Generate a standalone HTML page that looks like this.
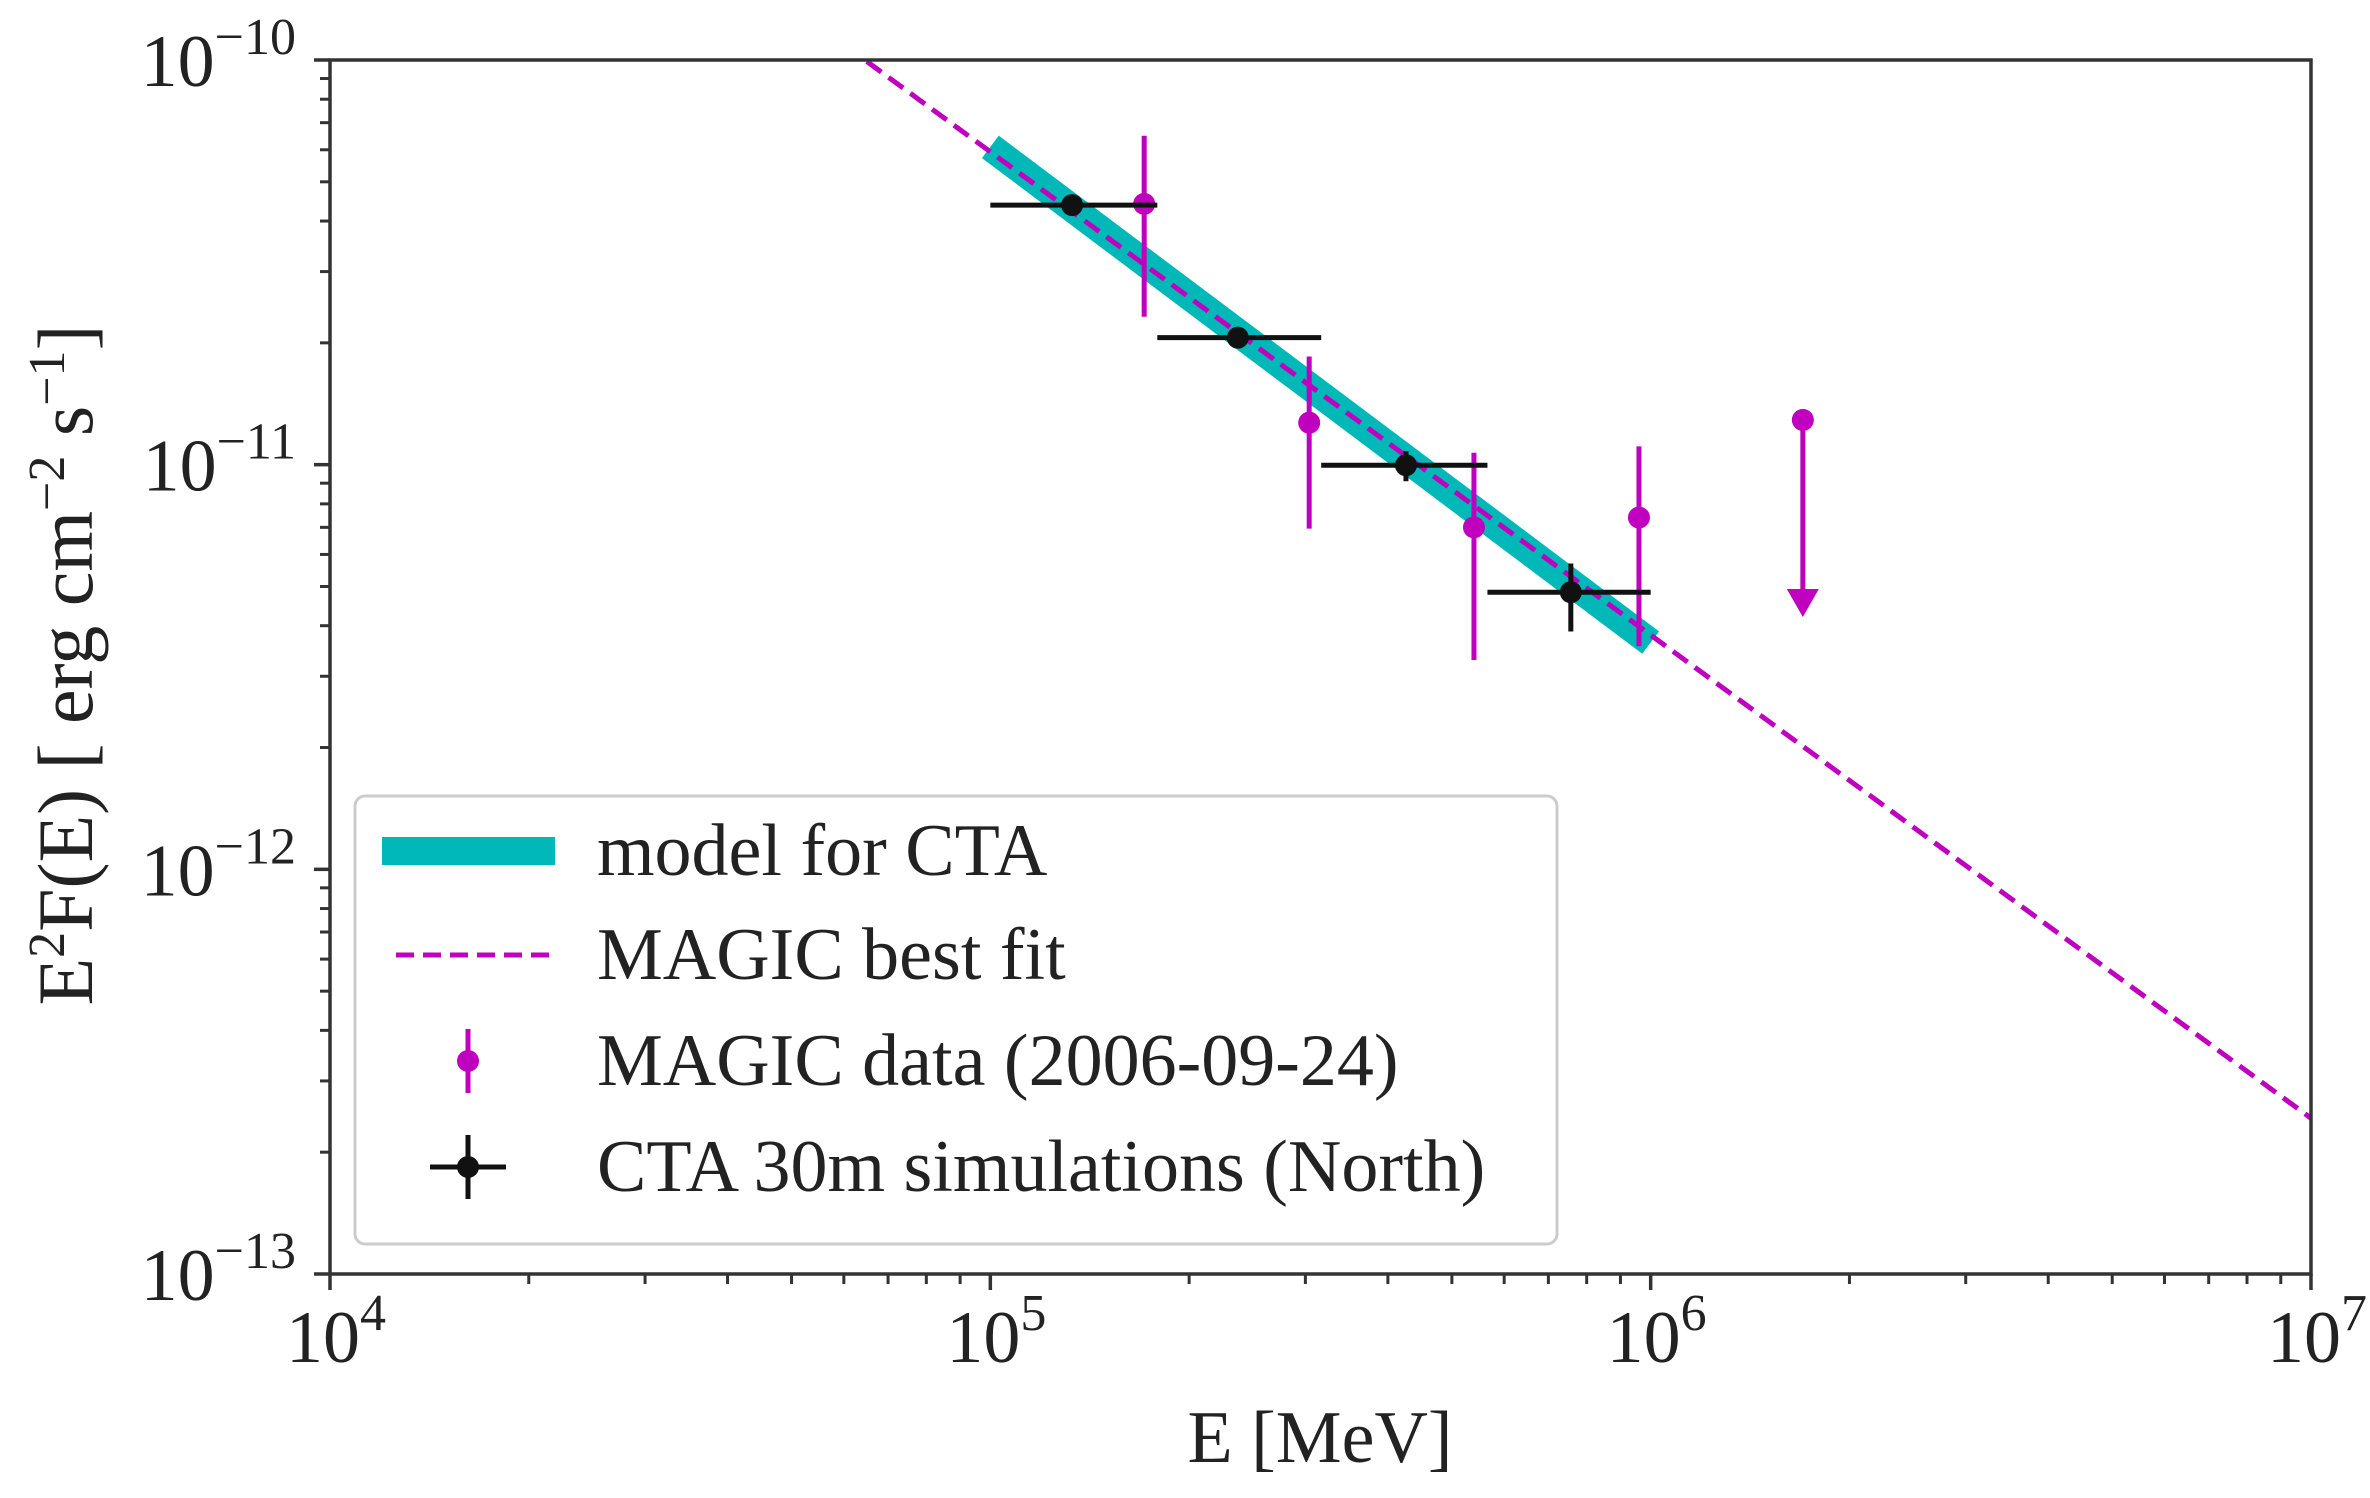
<!DOCTYPE html>
<html><head><meta charset="utf-8"><style>
html,body{margin:0;padding:0;background:#fff;}
svg{display:block;font-family:"Liberation Serif","DejaVu Serif",serif;}
</style></head><body>
<svg id="chart" width="2370" height="1498" viewBox="0 0 2370 1498" xmlns="http://www.w3.org/2000/svg">
<rect x="0" y="0" width="2370" height="1498" fill="#fff"/>
<g id="plot"></g>
<text x="1320" y="1462" font-size="74" text-anchor="middle" fill="#222">E [MeV]</text>
<text transform="translate(92,665) rotate(-90)" font-size="78" text-anchor="middle" fill="#222">E<tspan font-size="52" dy="-28">2</tspan><tspan dy="28">F(E) [ erg cm</tspan><tspan font-size="52" dy="-28">−2</tspan><tspan dy="28"> s</tspan><tspan font-size="52" dy="-28">−1</tspan><tspan dy="28">]</tspan></text>
</svg>
<script>
// ---- data ----
const xDecades = [4, 5, 6, 7];
const yDecades = [-10, -11, -12, -13];
const fitNorm = 5.93e-11;      // MAGIC best fit at 1e5 MeV
const fitIndex = -1.194;       // slope in E^2F
const fitRange = [6.5e4, 1e7];
const modelNorm = 6.1e-11;
const modelIndex = -1.225;
const modelRange = [1e5, 1e6];
const magicE = [1.71e5, 3.04e5, 5.4e5, 9.6e5];
const magicF = [4.41e-11, 1.27e-11, 7.0e-12, 7.4e-12];
const magicHi = [6.5e-11, 1.85e-11, 1.07e-11, 1.11e-11];
const magicLo = [2.32e-11, 6.95e-12, 3.29e-12, 3.56e-12];
const ulE = [1.70e6];
const ulF = [1.29e-11];
const ulTo = [4.3e-12];
const ctaE = [1.33e5, 2.37e5, 4.26e5, 7.57e5];
const ctaF = [4.38e-11, 2.06e-11, 9.97e-12, 4.84e-12];
const ctaElo = [1.0e5, 1.79e5, 3.17e5, 5.66e5];
const ctaEhi = [1.79e5, 3.17e5, 5.66e5, 1.0e6];
const ctaFlo = [4.2e-11, 1.98e-11, 9.1e-12, 3.87e-12];
const ctaFhi = [4.55e-11, 2.15e-11, 1.08e-11, 5.7e-12];
// ---- layout ----
const L=330,R=2311,T=60,B=1274;
const X=v=>L+(Math.log10(v)-4)/3*(R-L);
const Y=v=>T+(-10-Math.log10(v))/3*(B-T);
const NS="http://www.w3.org/2000/svg";
const g=document.getElementById('plot');
function mk(tag,attrs,parent){const e=document.createElementNS(NS,tag);for(const k in attrs)e.setAttribute(k,attrs[k]);(parent||g).appendChild(e);return e;}
const C='#333';
const MG='#bf00bf', CY='#00b8b8';
// model band
{const e=mk('line',{x1:X(modelRange[0]),y1:Y(modelNorm*Math.pow(modelRange[0]/1e5,modelIndex)),x2:X(modelRange[1]),y2:Y(modelNorm*Math.pow(modelRange[1]/1e5,modelIndex)),stroke:CY,'stroke-width':28});

}
// fit line
{const e=mk('line',{x1:X(fitRange[0]),y1:Y(fitNorm*Math.pow(fitRange[0]/1e5,fitIndex)),x2:X(fitRange[1]),y2:Y(fitNorm*Math.pow(fitRange[1]/1e5,fitIndex)),stroke:MG,'stroke-width':5,'stroke-dasharray':'18 9'});

}
// magic points
magicE.forEach((e,i)=>{
 const gg=mk('g',{});
 
 
 mk('line',{x1:X(e),x2:X(e),y1:Y(magicHi[i]),y2:Y(magicLo[i]),stroke:MG,'stroke-width':5},gg);
 mk('circle',{cx:X(e),cy:Y(magicF[i]),r:11,fill:MG},gg);
});
ulE.forEach((e,i)=>{
 const gg=mk('g',{});
 
 
 const x=X(e),y1=Y(ulF[i]),y2=Y(ulTo[i]);
 mk('line',{x1:x,x2:x,y1:y1,y2:y2-18,stroke:MG,'stroke-width':5},gg);
 mk('polygon',{points:`${x-16},${y2-24} ${x+16},${y2-24} ${x},${y2+4}`,fill:MG},gg);
 mk('circle',{cx:x,cy:y1,r:11,fill:MG},gg);
});
// cta points
ctaE.forEach((e,i)=>{
 const gg=mk('g',{});
 
 
 mk('line',{x1:X(ctaElo[i]),x2:X(ctaEhi[i]),y1:Y(ctaF[i]),y2:Y(ctaF[i]),stroke:'#111','stroke-width':5},gg);
 mk('line',{x1:X(e),x2:X(e),y1:Y(ctaFhi[i]),y2:Y(ctaFlo[i]),stroke:'#111','stroke-width':5},gg);
 mk('circle',{cx:X(e),cy:Y(ctaF[i]),r:11,fill:'#111'},gg);
});
// axes frame
{const e=mk('rect',{x:L,y:T,width:R-L,height:B-T,fill:'none',stroke:C,'stroke-width':3.5});

}
// x ticks
xDecades.forEach((d,i)=>{
 const x=X(Math.pow(10,d));
 mk('line',{x1:x,x2:x,y1:B,y2:B+16,stroke:C,'stroke-width':3.5});
 const t=mk('text',{x:x+6,y:1362,'font-size':74,'text-anchor':'middle',fill:'#222'});
 
 
 t.innerHTML=`10<tspan font-size="52" dy="-32">${d}</tspan>`;
 if(i<xDecades.length-1)for(let m=2;m<10;m++){const xm=X(m*Math.pow(10,d));mk('line',{x1:xm,x2:xm,y1:B,y2:B+10,stroke:C,'stroke-width':3});}
});
yDecades.forEach((d,i)=>{
 const y=Y(Math.pow(10,d));
 mk('line',{x1:L-16,x2:L,y1:y,y2:y,stroke:C,'stroke-width':3.5});
 const t=mk('text',{x:296,y:y+26,'font-size':74,'text-anchor':'end',fill:'#222'});
 
 
 t.innerHTML=`10<tspan font-size="52" dy="-32">−${-d}</tspan>`;
 if(i<yDecades.length-1)for(let m=2;m<10;m++){const ym=Y(m*Math.pow(10,d-1));mk('line',{x1:L-10,x2:L,y1:ym,y2:ym,stroke:C,'stroke-width':3});}
});
// legend
const lg=mk('g',{});


mk('rect',{x:355,y:796,width:1202,height:448,rx:10,fill:'#fff',stroke:'#ccc','stroke-width':3},lg);
const legNames=['model for CTA','MAGIC best fit','MAGIC data (2006-09-24)','CTA 30m simulations (North)'];
const legY=[851,955,1061,1167];
legNames.forEach((n,i)=>{
 const y=legY[i];const eg=mk('g',{},lg);
 
 
 if(i==0)mk('line',{x1:382,x2:555,y1:y,y2:y,stroke:CY,'stroke-width':28},eg);
 if(i==1)mk('line',{x1:396,x2:555,y1:y,y2:y,stroke:MG,'stroke-width':5,'stroke-dasharray':'18 9'},eg);
 if(i==2){mk('line',{x1:468,x2:468,y1:y-32,y2:y+32,stroke:MG,'stroke-width':5},eg);mk('circle',{cx:468,cy:y,r:11,fill:MG},eg);}
 if(i==3){mk('line',{x1:430,x2:506,y1:y,y2:y,stroke:'#111','stroke-width':5},eg);mk('line',{x1:468,x2:468,y1:y-32,y2:y+32,stroke:'#111','stroke-width':5},eg);mk('circle',{cx:468,cy:y,r:11,fill:'#111'},eg);}
 const t=mk('text',{x:597,y:y+24,'font-size':74,fill:'#222'},eg);t.textContent=n;
});
</script>
</body></html>
